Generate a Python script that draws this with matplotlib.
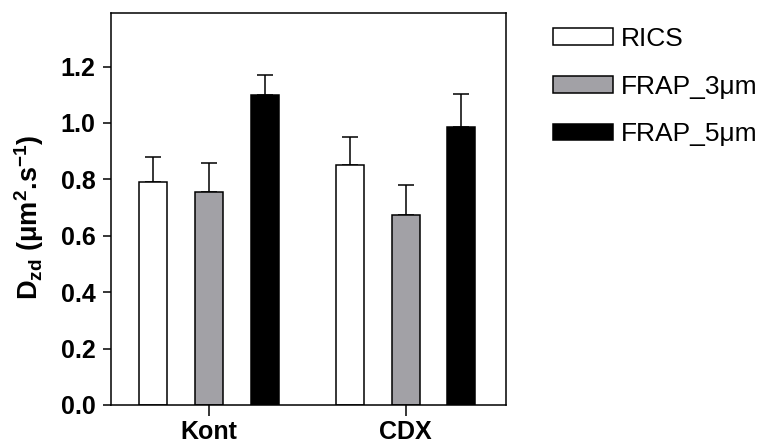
import matplotlib.pyplot as plt
import numpy as np

plt.rcParams['font.family'] = ['Liberation Sans', 'DejaVu Sans']
plt.rcParams['mathtext.fontset'] = 'custom'
plt.rcParams['mathtext.rm'] = 'Liberation Sans:bold'
plt.rcParams['mathtext.it'] = 'Liberation Sans:bold'
plt.rcParams['mathtext.bf'] = 'Liberation Sans:bold'

groups = ['Kont', 'CDX']
series = ['RICS', 'FRAP_3\u03bcm', 'FRAP_5\u03bcm']
means = {
    'RICS': [0.79, 0.85],
    'FRAP_3\u03bcm': [0.755, 0.675],
    'FRAP_5\u03bcm': [1.10, 0.985],
}
errs = {
    'RICS': [0.09, 0.10],
    'FRAP_3\u03bcm': [0.104, 0.104],
    'FRAP_5\u03bcm': [0.07, 0.118],
}
colors = ['white', '#a2a1a6', 'black']

fig = plt.figure(figsize=(7.68, 4.46), dpi=100)
ax = fig.add_axes([0.1445, 0.092, 0.514, 0.879])

x = np.arange(len(groups))
step = 0.284
width = 0.142
handles = []
for i, s in enumerate(series):
    pos = x + (i - 1) * step
    b = ax.bar(pos, means[s], width, color=colors[i], edgecolor='black',
               linewidth=1.1, label=s, zorder=2)
    ax.errorbar(pos, means[s], yerr=[np.zeros(len(groups)), errs[s]],
                fmt='none', ecolor='black', elinewidth=1.1, capsize=5.8,
                capthick=1.1, zorder=1)
    handles.append(b)

ax.set_xlim(-0.5, 1.51)
ax.set_ylim(0, 1.39)
ax.set_yticks(np.arange(0, 1.21, 0.2))
ax.set_yticklabels(['%.1f' % v for v in np.arange(0, 1.21, 0.2)])
ax.set_xticks(x)
ax.set_xticklabels(groups)
for sp in ax.spines.values():
    sp.set_linewidth(1.1)
ax.tick_params(axis='y', direction='out', length=6, width=1.1, labelsize=18, pad=5)
ax.tick_params(axis='x', direction='out', length=8, width=1.1, labelsize=18, pad=3)
for lab in ax.get_xticklabels() + ax.get_yticklabels():
    lab.set_fontweight('bold')

ax.set_ylabel(r'D$_{\rm zd}$ ($\rm\mu$m$^{2}$.s$^{-1}$)', fontsize=19.5,
              fontweight='bold')
ax.yaxis.set_label_coords(-0.165, 0.48)

fig.legend(handles=handles, labels=series, loc='upper left',
           bbox_to_anchor=(0.72, 0.94), frameon=False, fontsize=19,
           handlelength=2.27, handleheight=0.6, handletextpad=0.3,
           labelspacing=0.9, borderaxespad=0, borderpad=0)

fig.savefig('out.png', dpi=100)
